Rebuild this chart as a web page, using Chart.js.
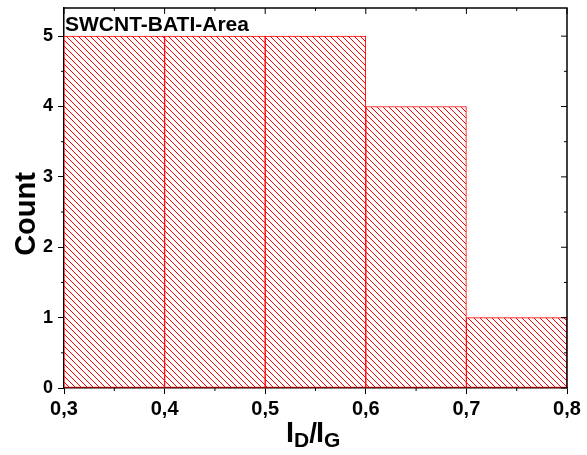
<!DOCTYPE html>
<html>
<head>
<meta charset="utf-8">
<script src="https://cdn.jsdelivr.net/npm/chart.js@4.4.0/dist/chart.umd.min.js"></script>
<style>
  html, body { margin: 0; padding: 0; background: #fff; }
  #wrap { width: 587px; height: 455px; }
</style>
</head>
<body>
<div id="wrap"><canvas id="c" width="587" height="455"></canvas></div>
<script>
// ---- data ----
const binCenters = [0.35, 0.45, 0.55, 0.65, 0.75];
const counts = [5, 5, 5, 4, 1];
const xTickValues = [0.3, 0.4, 0.5, 0.6, 0.7, 0.8];
const xTickLabels = ['0,3', '0,4', '0,5', '0,6', '0,7', '0,8'];
const xMinorTicks = [0.35, 0.45, 0.55, 0.65, 0.75];
const yTickValues = [0, 1, 2, 3, 4, 5];
const yTickLabels = ['0', '1', '2', '3', '4', '5'];
const yMinorTicks = [0.5, 1.5, 2.5, 3.5, 4.5];
const chartTitle = 'SWCNT-BATI-Area';
const yTitle = 'Count';

const FONT = '"Liberation Sans", Arial, sans-serif';

// hatch pattern
function makeHatch() {
  const s = 6;
  const pc = document.createElement('canvas');
  pc.width = s; pc.height = s;
  const g = pc.getContext('2d');
  g.fillStyle = '#ffffff';
  g.fillRect(0, 0, s, s);
  g.strokeStyle = '#ff0000';
  g.lineWidth = 1;
  for (let k = -1; k <= 1; k++) {
    g.beginPath();
    g.moveTo(k * s - 1, -1);
    g.lineTo(k * s + s + 1, s + 1);
    g.stroke();
  }
  return g.createPattern(pc, 'repeat');
}
const ctx = document.getElementById('c').getContext('2d');
const hatch = makeHatch();

const framePlugin = {
  id: 'frame',
  afterDraw(chart) {
    const c = chart.ctx;
    const a = chart.chartArea;
    const xs = chart.scales.x, ys = chart.scales.y;
    c.save();
    c.strokeStyle = '#000';
    c.lineWidth = 1.5;
    // top & right border
    c.beginPath();
    c.moveTo(a.left, a.top); c.lineTo(a.right, a.top); c.lineTo(a.right, a.bottom);
    c.stroke();
    c.lineWidth = 1;
    // top major inward & minor ticks
    xTickValues.forEach(v => {
      const px = xs.getPixelForValue(v);
      c.beginPath(); c.moveTo(px, a.top); c.lineTo(px, a.top + 6); c.stroke();
    });
    xMinorTicks.forEach(v => {
      const px = xs.getPixelForValue(v);
      c.beginPath(); c.moveTo(px, a.top); c.lineTo(px, a.top + 3); c.stroke();
      c.beginPath(); c.moveTo(px, a.bottom); c.lineTo(px, a.bottom + 3); c.stroke();
    });
    yTickValues.forEach(v => {
      const py = ys.getPixelForValue(v);
      c.beginPath(); c.moveTo(a.right, py); c.lineTo(a.right - 6, py); c.stroke();
    });
    yMinorTicks.forEach(v => {
      const py = ys.getPixelForValue(v);
      c.beginPath(); c.moveTo(a.right, py); c.lineTo(a.right - 3, py); c.stroke();
      c.beginPath(); c.moveTo(a.left, py); c.lineTo(a.left - 3, py); c.stroke();
    });
    // chart title inside plot
    c.fillStyle = '#000';
    c.font = 'bold 21px ' + FONT;
    c.textBaseline = 'alphabetic';
    c.textAlign = 'left';
    c.fillText(chartTitle, a.left + 1, 31);
    // y title
    c.save();
    c.translate(35, 214);
    c.rotate(-Math.PI / 2);
    c.font = 'bold 29px ' + FONT;
    c.textAlign = 'center';
    c.fillText(yTitle, 0, 0);
    c.restore();
    // x title I_D / I_G
    const parts = [
      ['I', 29, 0], ['D', 21, 5], ['/', 28, 0], ['I', 29, 0], ['G', 21, 5]
    ];
    let x = 286;
    const base = 442;
    c.textAlign = 'left';
    parts.forEach(([t, sz, dy]) => {
      c.font = 'bold ' + sz + 'px ' + FONT;
      c.fillText(t, x, base + dy);
      x += c.measureText(t).width - (t === '/' ? 1 : 0);
    });
    c.restore();
  }
};

new Chart(ctx, {
  type: 'bar',
  data: {
    datasets: [{
      data: binCenters.map((x, i) => ({ x: x, y: counts[i] })),
      backgroundColor: hatch,
      borderColor: '#ff0000',
      borderWidth: 1,
      borderSkipped: false,
      barPercentage: 1,
      categoryPercentage: 1
    }]
  },
  options: {
    responsive: false,
    animation: false,
    events: [],
    layout: { padding: { top: 8, right: 20, left: 0, bottom: 0 } },
    plugins: { legend: { display: false }, tooltip: { enabled: false }, title: { display: false } },
    scales: {
      x: {
        type: 'linear',
        min: 0.3, max: 0.8,
        offset: false,
        grid: { display: true, offset: false, drawOnChartArea: false, drawTicks: true, tickLength: 6, color: '#000', lineWidth: 1 },
        border: { display: true, color: '#000', width: 1.5 },
        afterBuildTicks: s => { s.ticks = xTickValues.map(v => ({ value: v })); },
        afterFit: s => { s.height = 67; s.paddingLeft = 0; s.paddingRight = 0; },
        ticks: {
          autoSkip: false, maxRotation: 0,
          padding: 3,
          color: '#000',
          font: { family: FONT, size: 20, weight: 'bold' },
          callback: (v, i) => xTickLabels[i]
        }
      },
      y: {
        min: 0, max: 5.4,
        grid: { display: true, drawOnChartArea: false, drawTicks: true, tickLength: 6, color: '#000', lineWidth: 1 },
        border: { display: true, color: '#000', width: 1.5 },
        afterBuildTicks: s => { s.ticks = yTickValues.map(v => ({ value: v })); },
        afterFit: s => { s.width = 64; s.paddingTop = 0; s.paddingBottom = 0; },
        ticks: {
          autoSkip: false,
          padding: 5,
          color: '#000',
          font: { family: FONT, size: 18, weight: 'bold' },
          callback: (v, i) => yTickLabels[i]
        }
      }
    }
  },
  plugins: [framePlugin]
});
</script>
</body>
</html>
